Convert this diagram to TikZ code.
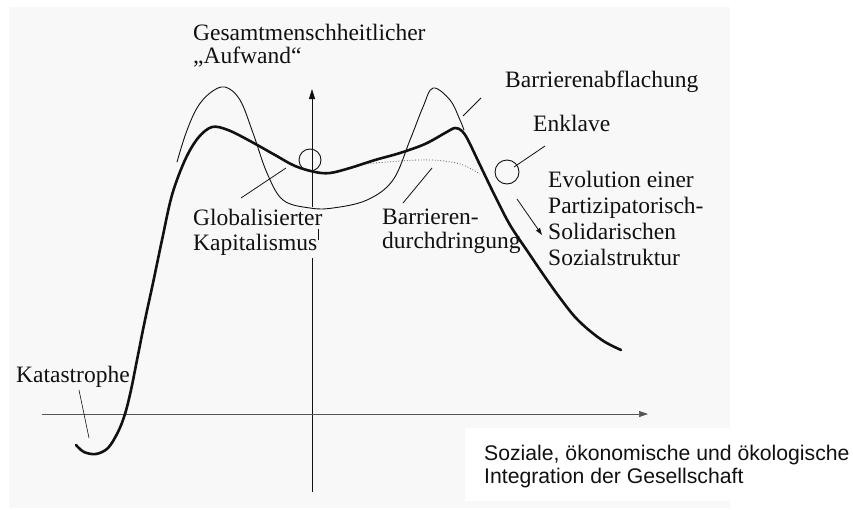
\documentclass[tikz,border=0pt]{standalone}
\usepackage{fontspec}
\setmainfont{Liberation Serif}
\newfontfamily\arialfont{Liberation Sans}
\usetikzlibrary{arrows.meta}
\definecolor{scanbg}{HTML}{F8F8F8}
\definecolor{ink}{HTML}{111111}
\definecolor{axisgray}{HTML}{555555}
\tikzset{
  lbl/.style={font=\fontsize{23.5}{25}\selectfont, inner sep=0pt, text=ink, align=left},
  sanslbl/.style={font=\arialfont\fontsize{21.2}{23}\selectfont, inner sep=0pt, text=ink, align=left},
  thickcurve/.style={draw=ink, line width=2.6pt, line cap=round, line join=round},
  thincurve/.style={draw=ink, line width=0.9pt, line cap=round, line join=round},
  dotcurve/.style={draw=axisgray, line width=0.8pt, dotted},
  leader/.style={draw=ink, line width=0.8pt},
  ring/.style={circle, draw=ink, line width=0.9pt, inner sep=0pt},
  axisline/.style={draw=ink, line width=0.9pt},
}
\begin{document}
\begin{tikzpicture}[x=1pt,y=-1pt]
\useasboundingbox (0,0) rectangle (853,509);
\fill[white] (0,0) rectangle (853,509);
\fill[scanbg] (9,7) rectangle (730,508);
\fill[white] (465,428) rectangle (730,501);

% axes
\coordinate (ybot) at (312,492);
\coordinate (ygap1) at (312,258);
\coordinate (ygap2) at (312,207);
\coordinate (ytop) at (312,89);
\coordinate (xl) at (42,414);
\coordinate (xr) at (648,414);
\draw[axisline] (ybot) -- (ygap1);
\draw[axisline, -{Triangle[length=10pt,width=6pt]}] (ygap2) -- (ytop);
\coordinate (tk1) at (318,229);
\coordinate (tk2) at (318,240);
\draw[draw=ink, line width=0.7pt] (tk1) -- (tk2);
\draw[draw=axisgray, line width=0.7pt, -{Triangle[length=9pt,width=6pt]}] (xl) -- (xr);

% thin double-peak curve
\draw[thincurve] plot[smooth, tension=0.6] coordinates {
 (177,162) (186,133) (197,108) (210,93) (225,87) (240,100) (253,133) (267,173)
 (283,200) (310,208) (333,208) (367,200) (393,180) (410,140) (423,107) (433,88)
 (450,100) (460,120) (464,130)};

% dotted curve
\draw[dotcurve] plot[smooth, tension=0.6] coordinates {
 (365,164) (400,161) (432,160) (460,164) (480,174)};

% thick curve
\draw[thickcurve] plot[smooth, tension=0.55] coordinates {
 (76,445) (84,452) (96,454) (108,448) (118,432) (125,414) (131,390) (137,360)
 (145,320) (153,283) (162,240) (172,195) (185,160) (198,138) (212,127) (228,130)
 (250,141) (275,155) (295,166) (315,172) (330,173) (350,168) (375,160) (400,153)
 (425,144) (445,133) (455,128) (462,131) (468,140) (480,165) (495,196) (510,225)
 (528,252) (545,277) (560,298) (575,317) (590,331) (605,342) (621,350)};

% circles
\node[ring, minimum size=22pt] (ring1) at (310,160) {};
\node[ring, minimum size=24pt] (ring2) at (507,172) {};

% labels (base = baseline of last line)
\node[lbl, anchor=base west, font=\fontsize{23.5}{23}\selectfont] (ytitle) at (193,63) {Gesamtmenschheitlicher\\„Aufwand“};
\node[lbl, anchor=base west] (abfl) at (505,87) {Barrierenabflachung};
\node[lbl, anchor=base west] (enkl) at (533,131) {Enklave};
\node[lbl, anchor=base west, font=\fontsize{23.5}{26}\selectfont] (evol) at (548,265) {Evolution einer\\Partizipatorisch-\\Solidarischen\\Sozialstruktur};
\node[lbl, anchor=base west] (glob) at (193,250) {Globalisierter\\Kapitalismus};
\node[lbl, anchor=base west, font=\fontsize{23.5}{24}\selectfont] (durch) at (382,248) {Barrieren-\\durchdringung};
\node[lbl, anchor=base west] (kata) at (16,382) {Katastrophe};
\node[sanslbl, anchor=base west] (xtitle) at (484,483) {Soziale, ökonomische und ökologische\\Integration der Gesellschaft};

% leader lines
\coordinate (globA) at (241,198);
\coordinate (globB) at (286,168);
\draw[leader] (globA) -- (globB);
\coordinate (durA) at (403,203);
\coordinate (durB) at (432,168);
\draw[leader] (durA) -- (durB);
\coordinate (abA) at (463,116);
\coordinate (abB) at (481,98);
\draw[leader] (abA) -- (abB);
\coordinate (enA) at (514,167);
\coordinate (enB) at (545,146);
\draw[leader] (enA) -- (enB);
\coordinate (kaA) at (79,390);
\coordinate (kaB) at (89,438);
\draw[leader, line width=0.6pt] (kaA) -- (kaB);
\coordinate (evA) at (517,199);
\coordinate (evB) at (542,235);
\draw[leader, -{Triangle[length=7pt,width=4.5pt]}] (evA) -- (evB);
\end{tikzpicture}
\end{document}
